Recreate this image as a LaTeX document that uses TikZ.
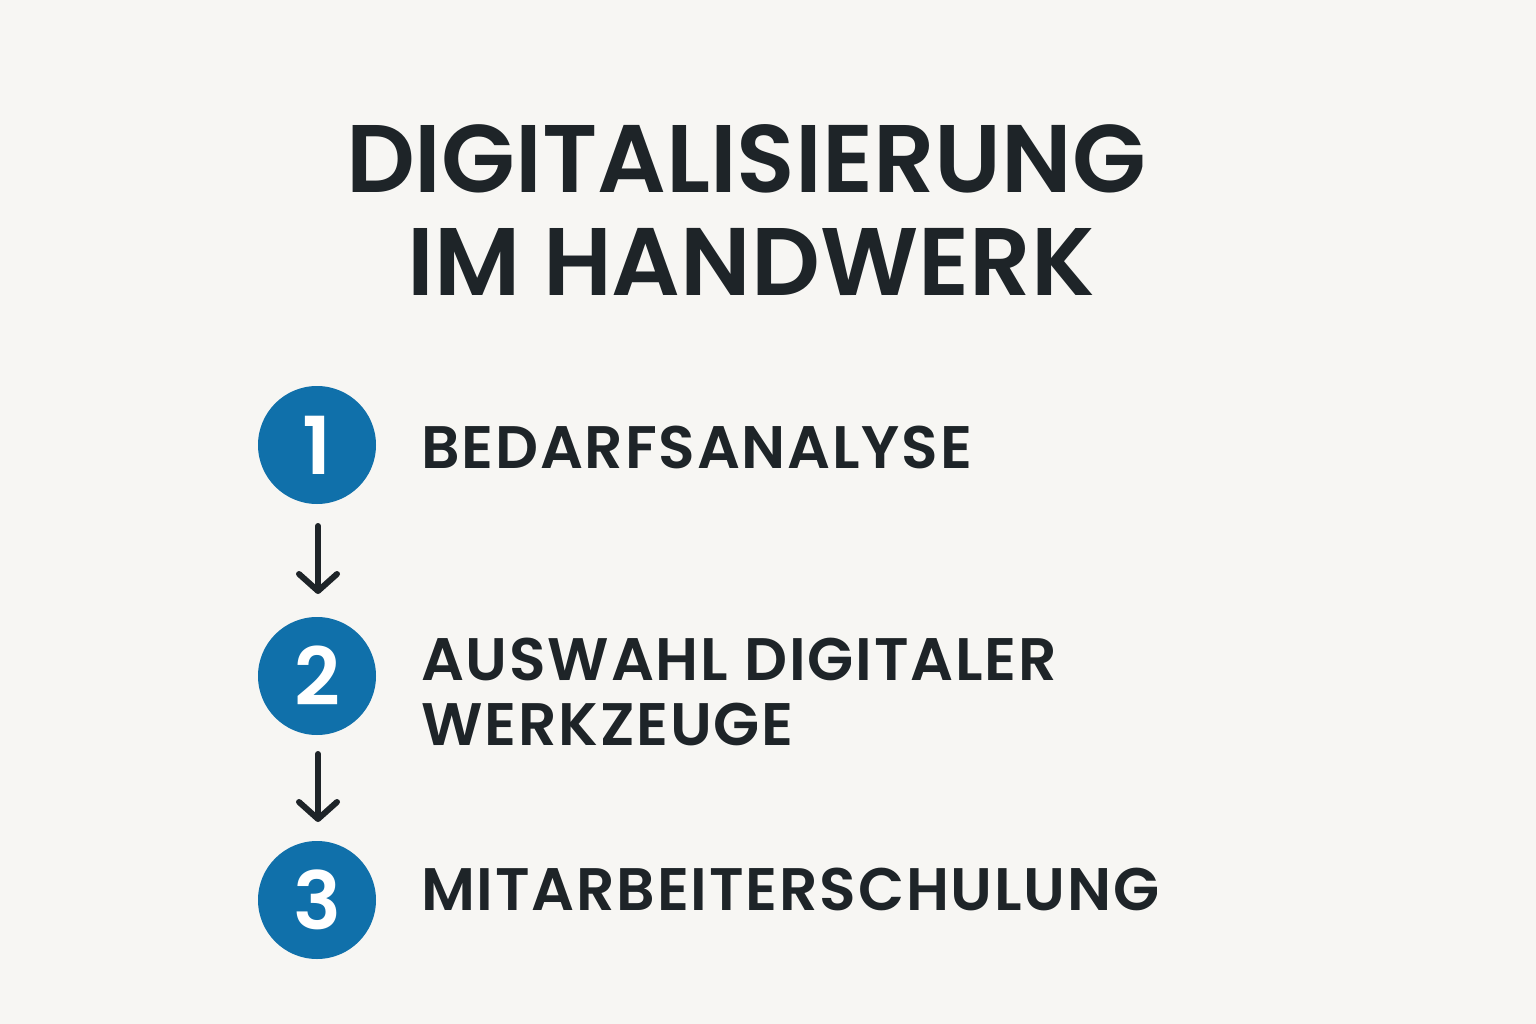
\documentclass[tikz,border=0pt]{standalone}
\usepackage{fontspec}
\setmainfont{Poppins}[BoldFont={Poppins SemiBold}]
\usetikzlibrary{arrows.meta}
\definecolor{bg}{HTML}{F7F6F3}
\definecolor{ink}{HTML}{1E2428}
\definecolor{stepblue}{HTML}{1070AA}
\tikzset{
  titletext/.style={anchor=base, text=ink, font=\fontsize{96}{110}\selectfont\bfseries, inner sep=0pt},
  itemtext/.style={anchor=base west, text=ink, font=\fontsize{60}{64}\selectfont\bfseries\addfontfeatures{LetterSpace=3}, inner sep=0pt},
  numcircle/.style={circle, fill=stepblue, minimum size=118pt, inner sep=0pt, text=white, font=\fontsize{80}{80}\selectfont\bfseries},
  flowarrow/.style={draw=ink, line width=6pt, line cap=round, line join=round, -{Straight Barb[length=17pt, width=38pt, line cap=round, line join=round]}}
}
\begin{document}
\begin{tikzpicture}[x=1pt,y=-1pt]
\fill[bg] (0,0) rectangle (1536,1024);
\useasboundingbox (0,0) rectangle (1536,1024);
\node[titletext] (t1) at (746,193) {DIGITALISIERUNG};
\node[titletext] (t2) at (751,295) {IM HANDWERK};
\node[numcircle] (c1) at (317,445) {1};
\node[numcircle] (c2) at (317,676) {2};
\node[numcircle] (c3) at (317,900) {3};
\node[itemtext] (s1) at (421,468) {BEDARFSANALYSE};
\node[itemtext] (s2a) at (421,680) {AUSWAHL DIGITALER};
\node[itemtext] (s2b) at (421,745) {WERKZEUGE};
\node[itemtext] (s3) at (421,910) {MITARBEITERSCHULUNG};
\coordinate (a1s) at (318,526);
\coordinate (a1e) at (318,594);
\coordinate (a2s) at (318,754);
\coordinate (a2e) at (318,822);
\draw[flowarrow] (a1s) -- (a1e);
\draw[flowarrow] (a2s) -- (a2e);
\end{tikzpicture}
\end{document}
